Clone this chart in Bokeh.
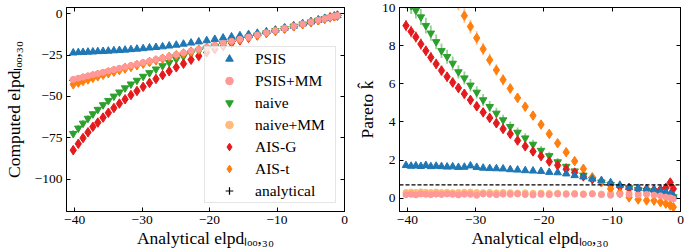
from bokeh.plotting import figure
from bokeh.models import (ColumnDataSource, Range1d, LinearAxis, FixedTicker, Span,
                          Legend, LegendItem, CustomJSTickFormatter,
                          CustomLabelingPolicy)
from bokeh.layouts import row
from bokeh.embed import file_html
from bokeh.resources import INLINE

# ---------------- data ----------------
elpd_analytical = [-40.2, -39.45, -38.75, -38.02, -37.29, -36.56, -35.78, -35.0, -34.18, -33.36,
                   -32.52, -31.65, -30.76, -29.84, -28.9, -27.94, -26.96, -25.98, -24.93, -23.86,
                   -22.74, -21.6, -20.42, -19.22, -17.99, -16.74, -15.5, -14.22, -12.92, -11.58,
                   -10.24, -8.88, -7.53, -6.2, -4.97, -3.88, -2.93, -2.14, -1.5, -1.05]

elpd_psis = [-23.6, -23.4, -23.3, -23.1, -23.0, -22.8, -22.7, -22.5, -22.3, -22.1,
             -21.9, -21.6, -21.3, -21.0, -20.6, -20.3, -19.9, -19.4, -18.9, -18.3,
             -17.6, -16.9, -16.2, -15.4, -14.6, -13.9, -13.2, -12.5, -11.7, -10.8,
             -9.8, -8.6, -7.4, -6.1, -4.9, -3.85, -2.9, -2.12, -1.49, -1.04]
elpd_psis_mm = [-39.7, -39.0, -38.3, -37.6, -36.9, -36.2, -35.4, -34.6, -33.8, -33.0,
                -32.2, -31.3, -30.4, -29.5, -28.6, -27.6, -26.7, -25.7, -24.7, -23.6,
                -22.5, -21.4, -20.2, -19.0, -17.8, -16.6, -15.35, -14.1, -12.8, -11.5,
                -10.15, -8.8, -7.47, -6.15, -4.93, -3.85, -2.9, -2.12, -1.48, -1.03]
elpd_naive = [-72.5, -69.25, -66.25, -63.3, -60.6, -57.9, -55.1, -52.5, -49.9, -47.4,
              -44.9, -42.55, -40.3, -37.9, -35.7, -33.5, -31.5, -29.5, -27.5, -25.8,
              -24.0, -22.5, -21.0, -19.6, -18.24, -16.89, -15.6, -14.27, -12.97, -11.63,
              -10.29, -8.93, -7.58, -6.25, -5.02, -3.93, -2.98, -2.19, -1.55, -1.1]
elpd_naive_mm = [-40.0, -39.3, -38.6, -37.9, -37.1, -36.4, -35.6, -34.8, -34.0, -33.2,
                 -32.4, -31.5, -30.6, -29.7, -28.8, -27.8, -26.85, -25.9, -24.85, -23.8,
                 -22.7, -21.55, -20.4, -19.2, -17.97, -16.72, -15.48, -14.2, -12.9, -11.57,
                 -10.23, -8.87, -7.52, -6.19, -4.96, -3.87, -2.92, -2.13, -1.49, -1.04]
elpd_ais_g = [-82.5, -78.65, -75.15, -71.7, -68.4, -65.8, -62.8, -59.9, -57.0, -54.3,
              -51.7, -49.15, -46.7, -44.2, -41.8, -39.4, -37.1, -34.8, -32.4, -30.2,
              -27.8, -25.6, -23.4, -21.4, -19.5, -17.7, -16.1, -14.57, -13.12, -11.68,
              -10.29, -8.93, -7.58, -6.25, -5.02, -3.93, -2.98, -2.19, -1.55, -1.1]
elpd_ais_t = [-42.7, -41.65, -40.7, -39.72, -38.79, -37.86, -36.93, -36.0, -35.03, -34.06,
              -33.12, -32.15, -31.16, -30.19, -29.2, -28.19, -27.16, -26.13, -25.05, -23.96,
              -22.82, -21.67, -20.48, -19.27, -18.03, -16.77, -15.52, -14.24, -12.93, -11.59,
              -10.25, -8.89, -7.54, -6.21, -4.98, -3.89, -2.94, -2.15, -1.51, -1.06]

err_elpd_naive = [2.2, 2.1, 2.0, 1.9, 1.8, 1.7, 1.6, 1.5, 1.4, 1.3,
                  1.2, 1.1, 1.0, 0.9, 0.8, 0.7, 0.6, 0.5, 0.45, 0.4,
                  0.35, 0.3, 0.25, 0.2, 0.15, 0.1, 0.1, 0.1, 0.1, 0.1,
                  0.1, 0.1, 0.1, 0.1, 0.1, 0.1, 0.1, 0.1, 0.1, 0.1]
err_elpd_ais_g = [2.6, 2.5, 2.4, 2.2, 2.1, 2.0, 1.9, 1.8, 1.7, 1.6,
                  1.5, 1.4, 1.3, 1.2, 1.1, 1.0, 0.9, 0.8, 0.7, 0.6,
                  0.5, 0.45, 0.4, 0.35, 0.3, 0.25, 0.2, 0.15, 0.1, 0.1,
                  0.1, 0.1, 0.1, 0.1, 0.1, 0.1, 0.1, 0.1, 0.1, 0.1]
err_elpd_ais_t = [0.6, 0.55, 0.5, 0.45, 0.4, 0.38, 0.35, 0.32, 0.3, 0.28,
                  0.26, 0.24, 0.22, 0.2, 0.18, 0.16, 0.15, 0.14, 0.13, 0.12,
                  0.11, 0.1, 0.1, 0.1, 0.1, 0.1, 0.1, 0.1, 0.1, 0.1,
                  0.1, 0.1, 0.1, 0.1, 0.1, 0.1, 0.1, 0.1, 0.1, 0.1]

khat_psis = [1.72, 1.68, 1.7, 1.67, 1.72, 1.66, 1.68, 1.66, 1.64, 1.65,
             1.62, 1.63, 1.7, 1.62, 1.58, 1.56, 1.55, 1.54, 1.5, 1.48,
             1.45, 1.43, 1.41, 1.36, 1.34, 1.28, 1.19, 1.12, 1.01, 0.93,
             0.82, 0.68, 0.56, 0.52, 0.49, 0.44, 0.38, 0.3, 0.22, 0.14]
khat_psis_mm = [0.18, 0.2, 0.17, 0.22, 0.2, 0.18, 0.21, 0.19, 0.22, 0.2,
                0.17, 0.21, 0.2, 0.15, 0.22, 0.2, 0.18, 0.21, 0.2, 0.22,
                0.19, 0.17, 0.2, 0.18, 0.22, 0.2, 0.21, 0.19, 0.22, 0.18,
                0.15, 0.2, 0.19, 0.17, 0.2, 0.16, 0.12, 0.06, 0.02, -0.04]
khat_naive = [10.4, 10.1, 9.85, 9.5, 9.05, 8.65, 8.2, 7.73, 7.42, 7.07,
              6.62, 6.3, 5.92, 5.55, 5.15, 4.8, 4.45, 4.1, 3.75, 3.45,
              3.15, 2.82, 2.5, 2.22, 1.9, 1.66, 1.42, 1.2, 0.98, 0.84,
              0.72, 0.6, 0.54, 0.45, 0.4, 0.32, 0.26, 0.2, 0.14, 0.06]
khat_naive_mm = [0.3, 0.32, 0.3, 0.33, 0.31, 0.3, 0.32, 0.3, 0.31, 0.29,
                 0.3, 0.31, 0.32, 0.3, 0.29, 0.3, 0.28, 0.3, 0.29, 0.27,
                 0.28, 0.26, 0.27, 0.25, 0.26, 0.24, 0.25, 0.23, 0.24, 0.22,
                 0.25, 0.28, 0.3, 0.3, 0.28, 0.26, 0.22, 0.18, 0.12, 0.05]
khat_ais_g = [9.05, 8.74, 8.45, 8.08, 7.73, 7.38, 7.04, 6.69, 6.37, 6.07,
              5.78, 5.47, 5.15, 4.82, 4.5, 4.21, 3.93, 3.63, 3.37, 3.02,
              2.72, 2.45, 2.2, 1.92, 1.72, 1.52, 1.34, 1.14, 1.0, 0.84,
              0.68, 0.6, 0.54, 0.49, 0.48, 0.44, 0.46, 0.54, 0.82, 0.49]
khat_ais_t = [14.6, 14.1, 13.6, 13.1, 12.6, 12.1, 11.7, 11.3, 10.9, 10.6,
              10.25, 9.57, 9.0, 8.4, 7.82, 7.25, 6.72, 6.21, 5.75, 5.26,
              4.8, 4.33, 3.86, 3.37, 2.88, 2.41, 1.94, 1.54, 1.1, 0.84,
              0.49, 0.26, 0.04, -0.07, -0.12, -0.13, -0.21, -0.29, -0.38, -0.47]

err_khat_psis = [0.06, 0.06, 0.06, 0.06, 0.06, 0.06, 0.06, 0.06, 0.06, 0.06,
                 0.06, 0.06, 0.06, 0.06, 0.06, 0.06, 0.06, 0.06, 0.06, 0.06,
                 0.06, 0.06, 0.06, 0.06, 0.06, 0.06, 0.06, 0.06, 0.06, 0.06,
                 0.06, 0.06, 0.06, 0.06, 0.06, 0.06, 0.06, 0.06, 0.06, 0.06]
err_khat_naive = [0.45, 0.44, 0.43, 0.42, 0.41, 0.4, 0.39, 0.38, 0.37, 0.36,
                  0.35, 0.34, 0.33, 0.32, 0.31, 0.3, 0.29, 0.28, 0.27, 0.26,
                  0.25, 0.24, 0.23, 0.22, 0.2, 0.18, 0.16, 0.14, 0.12, 0.1,
                  0.09, 0.08, 0.07, 0.06, 0.06, 0.05, 0.05, 0.05, 0.05, 0.05]
err_khat_ais_g = [0.3, 0.3, 0.29, 0.29, 0.28, 0.28, 0.27, 0.27, 0.26, 0.26,
                  0.25, 0.25, 0.24, 0.24, 0.23, 0.23, 0.22, 0.22, 0.21, 0.2,
                  0.2, 0.19, 0.18, 0.17, 0.16, 0.15, 0.14, 0.13, 0.12, 0.11,
                  0.1, 0.09, 0.08, 0.08, 0.07, 0.07, 0.07, 0.08, 0.1, 0.08]
err_khat_ais_t = [0.45, 0.45, 0.44, 0.44, 0.43, 0.43, 0.42, 0.42, 0.41, 0.41,
                  0.4, 0.38, 0.36, 0.35, 0.33, 0.32, 0.3, 0.29, 0.27, 0.26,
                  0.24, 0.23, 0.21, 0.2, 0.18, 0.17, 0.15, 0.14, 0.12, 0.11,
                  0.1, 0.09, 0.08, 0.07, 0.07, 0.06, 0.06, 0.06, 0.06, 0.06]

x_ticks = [-40, -30, -20, -10, 0]
y_ticks_elpd = [-100, -75, -50, -25, 0]
y_ticks_khat = [0, 2, 4, 6, 8, 10]
khat_threshold = 0.7

x_label = "Analytical elpd\u2097\u2092\u2092,\u2083\u2080"
y_label_left = "Computed elpd\u2097\u2092\u2092,\u2083\u2080"
y_label_right = "Pareto k\u0302"

# ---------------- styles ----------------
FONT = "Liberation Serif"
C_PSIS = "#1f77b4"
C_PSIS_MM = "#ff9896"
C_NAIVE = "#2ca02c"
C_NAIVE_MM = "#ffbb78"
C_AIS_G = "#e41a1c"
C_AIS_T = "#ff7f0e"

minus_fmt = CustomJSTickFormatter(code="""
    return tick < 0 ? "\\u2212" + Math.abs(tick) : String(tick);
""")
no_labels = CustomLabelingPolicy(code="""
    const all = [...indices];
    for (const i of all) { indices.unset(i); }
    return indices;
""")


def make_fig(width, xr, yr, min_left, min_right, xticks, yticks):
    p = figure(width=width, height=252, x_range=xr, y_range=yr,
               output_backend="svg", toolbar_location=None,
               min_border_left=min_left, min_border_right=min_right,
               min_border_top=7, min_border_bottom=41)
    p.grid.visible = False
    p.outline_line_color = "black"
    p.background_fill_color = "white"
    p.border_fill_color = "white"
    xb = p.below[0]
    yl = p.left[0]
    for ax, ticks in ((xb, xticks), (yl, yticks)):
        ax.ticker = FixedTicker(ticks=ticks)
        ax.formatter = minus_fmt
        ax.major_tick_in = 4
        ax.major_tick_out = 0
        ax.minor_tick_in = 0
        ax.minor_tick_out = 0
        ax.axis_line_color = "black"
        ax.major_tick_line_color = "black"
        ax.major_label_text_font = FONT
        ax.major_label_text_font_size = "13.5px"
        ax.major_label_text_color = "black"
        ax.major_label_standoff = 4
        ax.axis_label_text_font = FONT
        ax.axis_label_text_font_style = "normal"
        ax.axis_label_text_font_size = "17.5px"
        ax.axis_label_text_color = "black"
    for place, ticks in (("above", xticks), ("right", yticks)):
        ax = LinearAxis(ticker=FixedTicker(ticks=ticks), major_label_text_font_size="0px",
                        major_label_policy=no_labels,
                        major_label_standoff=0, major_tick_in=4, major_tick_out=0,
                        minor_tick_in=0, minor_tick_out=0, axis_line_color="black",
                        major_tick_line_color="black")
        p.add_layout(ax, place)
    return p, xb, yl


def series(p, x, y, err, color, marker, size, line_width=1.0):
    data = dict(x=x, y=y)
    if err is not None:
        data["lo"] = [a - b for a, b in zip(y, err)]
        data["hi"] = [a + b for a, b in zip(y, err)]
    src = ColumnDataSource(data)
    if err is not None:
        p.segment("x", "lo", "x", "hi", source=src, line_color=color,
                  line_alpha=0.5, line_width=1.8)
    return p.scatter("x", "y", source=src, marker=marker, size=size,
                     fill_color=color, line_color=color, line_width=line_width)


# ---------------- left panel ----------------
p1, xb1, yl1 = make_fig(350, Range1d(-41.2, 0), Range1d(-119.6, 3.8), 62, 6,
                        x_ticks, y_ticks_elpd)
xb1.axis_label = x_label
xb1.axis_label_standoff = 1
yl1.axis_label = y_label_left
yl1.axis_label_standoff = 8

r_an = series(p1, elpd_analytical, elpd_analytical, None, "black", "cross", 8, line_width=1.2)
r_nmm = series(p1, elpd_analytical, elpd_naive_mm, None, C_NAIVE_MM, "circle", 6)
r_nv = series(p1, elpd_analytical, elpd_naive, err_elpd_naive, C_NAIVE, "inverted_triangle", 7.5)
r_ag = series(p1, elpd_analytical, elpd_ais_g, err_elpd_ais_g, C_AIS_G, "diamond", 9.5)
r_at = series(p1, elpd_analytical, elpd_ais_t, err_elpd_ais_t, C_AIS_T, "diamond", 9.5)
r_ps = series(p1, elpd_analytical, elpd_psis, None, C_PSIS, "triangle", 7.5)
r_pmm = series(p1, elpd_analytical, elpd_psis_mm, None, C_PSIS_MM, "circle", 6)

legend = Legend(items=[
    LegendItem(label="PSIS", renderers=[r_ps]),
    LegendItem(label="PSIS+MM", renderers=[r_pmm]),
    LegendItem(label="naive", renderers=[r_nv]),
    LegendItem(label="naive+MM", renderers=[r_nmm]),
    LegendItem(label="AIS-G", renderers=[r_ag]),
    LegendItem(label="AIS-t", renderers=[r_at]),
    LegendItem(label="analytical", renderers=[r_an]),
], location="bottom_right")
legend.label_text_font = FONT
legend.label_text_font_size = "15.5px"
legend.label_text_color = "black"
legend.glyph_width = 44
legend.glyph_height = 19
legend.label_height = 19
legend.label_width = 78
legend.label_standoff = 4
legend.spacing = 3
legend.padding = 2
legend.margin = 8
legend.border_line_color = "#cccccc"
legend.border_line_width = 1
legend.background_fill_color = "white"
legend.background_fill_alpha = 0.8
p1.add_layout(legend)

# ---------------- right panel ----------------
p2, xb2, yl2 = make_fig(335, Range1d(-41.15, 0), Range1d(-0.7, 10), 49, 5,
                        x_ticks, y_ticks_khat)
xb2.axis_label = x_label
xb2.axis_label_standoff = 1
yl2.axis_label = y_label_right
yl2.axis_label_standoff = 2

p2.add_layout(Span(location=khat_threshold, dimension="width", line_color="black",
                   line_dash="4 2", line_width=1.2))
series(p2, elpd_analytical, khat_naive_mm, None, C_NAIVE_MM, "circle", 6)
series(p2, elpd_analytical, khat_naive, err_khat_naive, C_NAIVE, "inverted_triangle", 7.5)
series(p2, elpd_analytical, khat_ais_g, err_khat_ais_g, C_AIS_G, "diamond", 9.5)
series(p2, elpd_analytical, khat_ais_t, err_khat_ais_t, C_AIS_T, "diamond", 9.5)
series(p2, elpd_analytical, khat_psis, err_khat_psis, C_PSIS, "triangle", 7.5)
series(p2, elpd_analytical, khat_psis_mm, None, C_PSIS_MM, "circle", 6)

layout = row(p1, p2)
open("out.html", "w").write(file_html(layout, INLINE))
